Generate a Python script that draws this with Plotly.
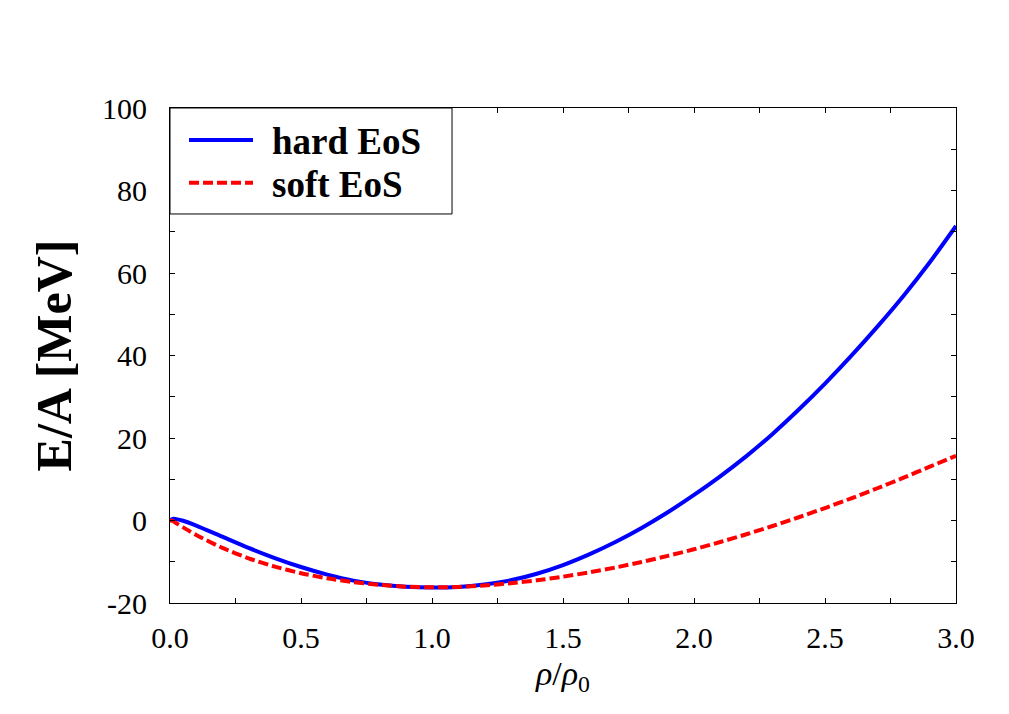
import plotly.graph_objects as go

rho = [0.0, 0.01, 0.02, 0.05, 0.1, 0.2, 0.3, 0.4, 0.5, 0.6, 0.7, 0.8, 0.9, 1.0,
       1.1, 1.2, 1.3, 1.4, 1.5, 1.6, 1.7, 1.8, 1.9, 2.0, 2.1, 2.2, 2.3, 2.4,
       2.5, 2.6, 2.7, 2.8, 2.9, 3.0]

hard_eos = [0.0, 0.40, 0.39, -0.05, -1.22, -3.93, -6.63, -9.10, -11.28, -13.11,
            -14.57, -15.50, -16.05, -16.25, -16.10, -15.50, -14.50, -12.90,
            -10.80, -8.20, -5.20, -1.80, 2.00, 6.20, 10.70, 15.60, 21.00, 26.90,
            33.20, 39.90, 47.00, 54.50, 62.60, 71.40]

soft_eos = [0.0, -0.11, -0.47, -1.66, -3.51, -6.65, -9.17, -11.18, -12.78,
            -14.02, -14.93, -15.60, -16.05, -16.20, -16.10, -15.75, -15.20,
            -14.50, -13.62, -12.58, -11.39, -10.06, -8.58, -6.97, -5.22, -3.34,
            -1.33, 0.79, 3.02, 5.37, 7.82, 10.38, 13.05, 15.70]

x_ticks = [0.0, 0.5, 1.0, 1.5, 2.0, 2.5, 3.0]
x_tick_labels = ["0.0", "0.5", "1.0", "1.5", "2.0", "2.5", "3.0"]
y_ticks = [-20, 0, 20, 40, 60, 80, 100]
y_tick_labels = ["-20", "0", "20", "40", "60", "80", "100"]

series_names = ["hard EoS", "soft EoS"]
series_colors = ["#0000ff", "#ff0000"]
series_dash = ["solid", "10px,4px"]

SERIF = "Liberation Serif, Times New Roman, serif"

fig = go.Figure()
fig.add_trace(go.Scatter(x=rho, y=hard_eos, mode="lines", name=series_names[0],
                         line=dict(color=series_colors[0], width=4, dash=series_dash[0], shape="spline", smoothing=0.6),
                         showlegend=False))
fig.add_trace(go.Scatter(x=rho, y=soft_eos, mode="lines", name=series_names[1],
                         line=dict(color=series_colors[1], width=4, dash=series_dash[1], shape="spline", smoothing=0.6),
                         showlegend=False))

axis_common = dict(
    showline=True, linecolor="black", linewidth=1, mirror="allticks",
    ticks="inside", ticklen=5, tickwidth=1, tickcolor="black",
    showgrid=False, zeroline=False,
    tickfont=dict(family=SERIF, size=30, color="black"),
)

fig.update_xaxes(
    range=[0, 3], tickvals=x_ticks, ticktext=x_tick_labels,
    minor=dict(dtick=0.25, ticks="inside", ticklen=5, tickcolor="black", showgrid=False),
    ticklabelstandoff=8,
    title=dict(text="<i>ρ</i>/<i>ρ</i><sub>0</sub>", font=dict(family=SERIF, size=34, color="black"), standoff=8),
    **axis_common,
)
fig.update_yaxes(
    range=[-20, 100], tickvals=y_ticks, ticktext=y_tick_labels,
    minor=dict(dtick=10, ticks="inside", ticklen=5, tickcolor="black", showgrid=False),
    ticklabelstandoff=16,
    title=dict(text="<b>E/A [MeV]</b>", font=dict(family=SERIF, size=50, color="black"), standoff=14),
    **axis_common,
)

# Legend box drawn in paper coordinates
shapes = [
    dict(type="rect", xref="paper", yref="paper", x0=0, x1=0.3588, y0=0.7859, y1=1,
         line=dict(color="black", width=1), fillcolor="white", layer="above"),
]
legend_y = [0.9354, 0.849]
for i in range(2):
    shapes.append(dict(type="line", xref="paper", yref="paper", x0=0.0242, x1=0.1056,
                       y0=legend_y[i], y1=legend_y[i],
                       line=dict(color=series_colors[i], width=4, dash=series_dash[i]),
                       layer="above"))
annotations = []
for i in range(2):
    annotations.append(dict(xref="paper", yref="paper", x=0.127, y=legend_y[i] - 0.003,
                            xanchor="left", yanchor="middle", showarrow=False,
                            text="<b>" + series_names[i] + "</b>",
                            font=dict(family=SERIF, size=37, color="black")))

fig.update_layout(
    width=1009, height=714,
    margin=dict(l=170, r=53, t=108, b=111, autoexpand=False),
    paper_bgcolor="white", plot_bgcolor="white",
    shapes=shapes, annotations=annotations,
    showlegend=False,
)

fig.write_html("out.html")
